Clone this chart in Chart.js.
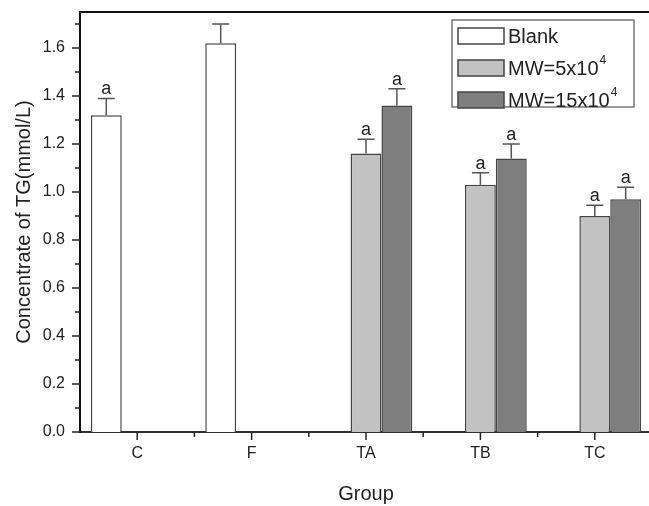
<!DOCTYPE html>
<html>
<head>
<title>TG concentration</title>
<script src="https://cdn.jsdelivr.net/npm/chart.js"></script>
<style>
  body { margin: 0; overflow: hidden; background: #fff; }
</style>
</head>
<body>
<canvas id="tgChart" width="653" height="506"></canvas>

<script>
    // groups on the x axis
    const groups = ['C', 'F', 'TA', 'TB', 'TC'];

    // mean TG values (mmol/L), null where the group has no such bar
    const blank = [1.32, 1.62, null, null, null];
    const mw5 = [null, null, 1.16, 1.03, 0.90];
    const mw15 = [null, null, 1.36, 1.14, 0.97];

    // upper error (SD)
    const blankErr = [0.07, 0.08, null, null, null];
    const mw5Err = [null, null, 0.06, 0.05, 0.045];
    const mw15Err = [null, null, 0.07, 0.06, 0.05];

    // significance letters above each bar
    const blankSig = ['a', '', '', '', ''];
    const mw5Sig = ['', '', 'a', 'a', 'a'];
    const mw15Sig = ['', '', 'a', 'a', 'a'];

    const seriesNames = ['Blank', 'MW=5x10', 'MW=15x10'];
    const seriesSup = ['', '4', '4'];

    const yTicks = [0, 0.2, 0.4, 0.6, 0.8, 1.0, 1.2, 1.4, 1.6];
    const yMax = 1.75;

    const FONT = '"Liberation Sans", Arial, sans-serif';
    const errs = [blankErr, mw5Err, mw15Err];
    const sigs = [blankSig, mw5Sig, mw15Sig];

    const axisTicks = {
        id: 'axisTicks',
        afterDraw(chart) {
            const c = chart.ctx, a = chart.chartArea;
            const y = chart.scales.y, x = chart.scales.x;
            c.save();
            // top frame line
            c.strokeStyle = '#111';
            c.lineWidth = 2;
            c.beginPath();
            c.moveTo(a.left - 1, a.top);
            c.lineTo(a.right + 2, a.top);
            c.stroke();
            // y ticks, major and minor
            c.lineWidth = 1.5;
            c.strokeStyle = '#222';
            for (let i = 0; i <= 17; i++) {
                const py = y.getPixelForValue(i / 10);
                const len = i % 2 === 0 ? 8 : 5;
                c.beginPath();
                c.moveTo(a.left - len, py);
                c.lineTo(a.left, py);
                c.stroke();
            }
            // x ticks at groups and minor ones in between
            const half = (x.getPixelForValue(1) - x.getPixelForValue(0)) / 2;
            for (let i = 0; i < groups.length; i++) {
                const px = x.getPixelForValue(i);
                c.beginPath();
                c.moveTo(px, a.bottom);
                c.lineTo(px, a.bottom + 8);
                c.stroke();
                if (i < groups.length - 1) {
                    c.beginPath();
                    c.moveTo(px + half, a.bottom);
                    c.lineTo(px + half, a.bottom + 5);
                    c.stroke();
                }
            }
            c.restore();
        }
    };

    const errorBars = {
        id: 'errorBars',
        afterDatasetsDraw(chart) {
            const c = chart.ctx, y = chart.scales.y;
            c.save();
            chart.data.datasets.forEach((ds, di) => {
                const meta = chart.getDatasetMeta(di);
                meta.data.forEach((bar, i) => {
                    const v = ds.data[i];
                    if (v === null) return;
                    const top = y.getPixelForValue(v + errs[di][i]);
                    c.strokeStyle = '#555';
                    c.lineWidth = 1.5;
                    c.beginPath();
                    c.moveTo(bar.x, bar.y);
                    c.lineTo(bar.x, top);
                    c.moveTo(bar.x - 8.5, top);
                    c.lineTo(bar.x + 8.5, top);
                    c.stroke();
                    if (sigs[di][i]) {
                        c.fillStyle = '#222';
                        c.font = '18px ' + FONT;
                        c.textAlign = 'center';
                        c.textBaseline = 'alphabetic';
                        c.fillText(sigs[di][i], bar.x, top - 4);
                    }
                });
            });
            c.restore();
        }
    };

    const boxLegend = {
        id: 'boxLegend',
        afterDraw(chart) {
            const c = chart.ctx, a = chart.chartArea;
            const left = a.right - 200, top = a.top + 8;
            c.save();
            c.strokeStyle = '#777';
            c.lineWidth = 1.5;
            c.strokeRect(left, top, 182, 87);
            chart.data.datasets.forEach((ds, i) => {
                const cy = top + 16 + i * 32;
                c.fillStyle = ds.backgroundColor;
                c.fillRect(left + 6, cy - 8, 46, 16);
                c.strokeStyle = '#444';
                c.lineWidth = 1.5;
                c.strokeRect(left + 6, cy - 8, 46, 16);
                c.fillStyle = '#222';
                c.font = '20px ' + FONT;
                c.textAlign = 'left';
                c.textBaseline = 'middle';
                c.fillText(seriesNames[i], left + 56, cy + 1);
                if (seriesSup[i]) {
                    const w = c.measureText(seriesNames[i]).width;
                    c.font = '12px ' + FONT;
                    c.fillText(seriesSup[i], left + 57 + w, cy - 7);
                }
            });
            c.restore();
        }
    };

    const ctx = document.getElementById('tgChart');
    const chart = new Chart(ctx, {
        type: 'bar',
        data: {
            labels: groups,
            datasets: [
                { label: seriesNames[0], data: blank, backgroundColor: '#ffffff' },
                { label: seriesNames[1], data: mw5, backgroundColor: '#c2c2c2' },
                { label: seriesNames[2], data: mw15, backgroundColor: '#7e7e7e' }
            ]
        },
        options: {
            responsive: false,
            animation: false,
            layout: { padding: { top: 12, right: 1, left: 12, bottom: 0 } },
            datasets: {
                bar: {
                    borderColor: '#444',
                    borderWidth: 1.5,
                    categoryPercentage: 0.81,
                    barPercentage: 1
                }
            },
            plugins: {
                legend: { display: false },
                tooltip: { enabled: false }
            },
            scales: {
                x: {
                    grid: { display: false },
                    border: { display: true, color: '#333', width: 2 },
                    ticks: { color: '#222', font: { family: FONT, size: 16 }, padding: 4 },
                    title: {
                        display: true, text: 'Group', color: '#222',
                        font: { family: FONT, size: 20 }, padding: { top: 0, bottom: 0 }
                    },
                    afterFit(s) { s.height = 74; s.paddingLeft = 0; s.paddingRight = 0; }
                },
                y: {
                    min: 0,
                    max: yMax,
                    grid: { display: false },
                    border: { display: true, color: '#111', width: 2 },
                    afterBuildTicks(s) { s.ticks = yTicks.map(v => ({ value: v })); },
                    ticks: {
                        color: '#222', font: { family: FONT, size: 16 }, padding: 7,
                        callback: v => v.toFixed(1)
                    },
                    title: {
                        display: true, text: 'Concentrate of TG(mmol/L)', color: '#222',
                        font: { family: FONT, size: 20 }, padding: { top: 0, bottom: 0 }
                    },
                    afterFit(s) { s.width = 68; s.paddingTop = 0; s.paddingBottom = 0; }
                }
            }
        },
        plugins: [axisTicks, errorBars, boxLegend]
    });
</script>
</body>
</html>
